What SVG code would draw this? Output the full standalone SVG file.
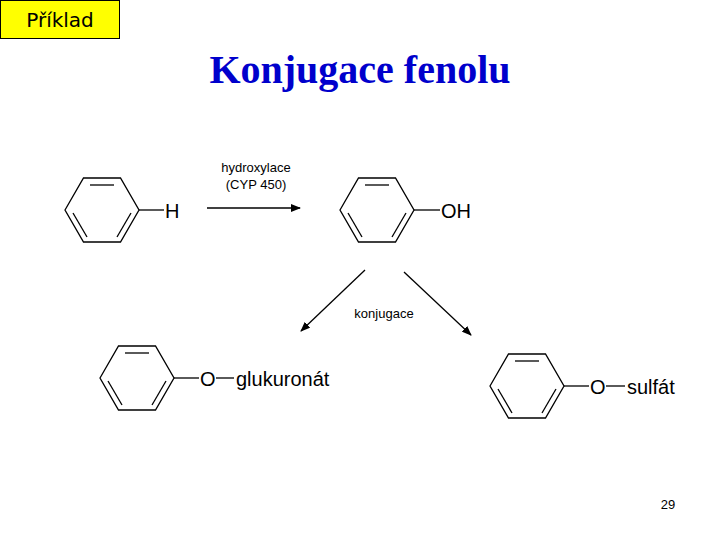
<svg xmlns="http://www.w3.org/2000/svg" width="720" height="540" viewBox="0 0 720 540">
<style>
.b{stroke:#000;stroke-width:1.3;fill:none}
.t{font-family:"Liberation Sans",Arial,sans-serif;fill:#000}
</style>
<defs>
<marker id="a" markerWidth="10" markerHeight="8" refX="9" refY="4" orient="auto" markerUnits="userSpaceOnUse"><path d="M0,0 L10,4 L0,8 Z" fill="#000"/></marker>
<g id="ring" class="b">
<polygon points="-37,0 -18.5,-32 18.5,-32 37,0 18.5,32 -18.5,32"/>
<line x1="-12" y1="-25" x2="12" y2="-25"/>
<line x1="-29" y1="3" x2="-15" y2="27"/>
<line x1="29" y1="3" x2="15" y2="27"/>
</g>
</defs>
<rect width="720" height="540" fill="#fff"/>
<g id="label"><rect x="0.5" y="0.5" width="119" height="38" fill="#ffff00" stroke="#000"/>
<text x="60" y="27" text-anchor="middle" font-family="DejaVu Sans,sans-serif" font-size="20">Příklad</text></g>
<text x="360" y="83" text-anchor="middle" font-family="Liberation Serif,serif" font-weight="bold" font-size="40" fill="#0000cc">Konjugace fenolu</text>
<g id="benzene"><use href="#ring" x="102" y="210"/><line class="b" x1="139" y1="210" x2="164" y2="210"/><text class="t" x="165" y="218" font-size="20">H</text></g>
<g id="phenol"><use href="#ring" x="377" y="210"/><line class="b" x1="414" y1="210" x2="440" y2="210"/><text class="t" x="441" y="218" font-size="20">OH</text></g>
<g id="glucuronide"><use href="#ring" x="137" y="378"/><line class="b" x1="174" y1="378" x2="199" y2="378"/><text class="t" x="200" y="386" font-size="20">O</text><line class="b" x1="216" y1="378" x2="234" y2="378"/><text class="t" x="236" y="386" font-size="20">glukuronát</text></g>
<g id="sulfate"><use href="#ring" x="527" y="386"/><line class="b" x1="564" y1="386" x2="589" y2="386"/><text class="t" x="590" y="394" font-size="20">O</text><line class="b" x1="606" y1="386" x2="625" y2="386"/><text class="t" x="627" y="394" font-size="20">sulfát</text></g>
<g id="connectors" class="b">
<line x1="207" y1="208" x2="300" y2="208" marker-end="url(#a)"/>
<line x1="365" y1="270" x2="301" y2="331" marker-end="url(#a)"/>
<line x1="404" y1="272" x2="471" y2="335" marker-end="url(#a)"/>
</g>
<text class="t" x="256" y="172" text-anchor="middle" font-size="13">hydroxylace</text>
<text class="t" x="256" y="189" text-anchor="middle" font-size="13">(CYP 450)</text>
<text class="t" x="384" y="318" text-anchor="middle" font-size="13">konjugace</text>
<text class="t" x="668" y="509" text-anchor="middle" font-size="13">29</text>
</svg>
